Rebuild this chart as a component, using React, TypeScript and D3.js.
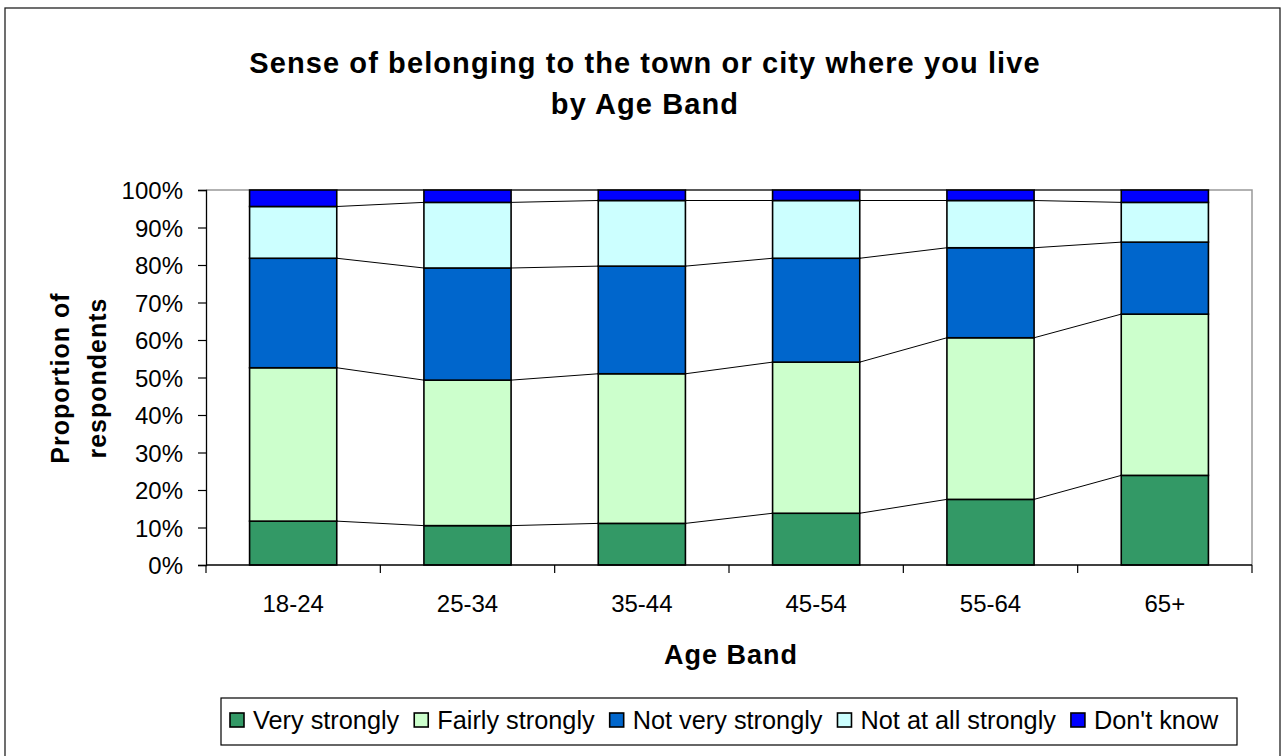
import React, { useRef, useEffect } from "react";
import * as d3 from "d3";

// Age bands and the share of respondents (%) in each answer
const ageBands = ["18-24", "25-34", "35-44", "45-54", "55-64", "65+"];
const seriesNames = ["Very strongly", "Fairly strongly", "Not very strongly", "Not at all strongly", "Don't know"];
const veryStrongly = [11.7, 10.5, 11.1, 13.8, 17.5, 23.9];
const fairlyStrongly = [40.9, 38.8, 39.9, 40.3, 43.1, 43.0];
const notVeryStrongly = [29.2, 29.9, 28.7, 27.7, 24.0, 19.2];
const notAtAllStrongly = [13.8, 17.5, 17.5, 15.4, 12.6, 10.6];
const dontKnow = [4.4, 3.3, 2.8, 2.8, 2.8, 3.3];
const seriesColors = ["#339966", "#CCFFCC", "#0066CC", "#CCFFFF", "#0000FF"];
const yTicks = [0, 10, 20, 30, 40, 50, 60, 70, 80, 90, 100];

const FONT = "'Liberation Sans', Arial, sans-serif";

const App = () => {
  const svgRef = useRef<SVGSVGElement>(null);

  useEffect(() => {
    const W = 1284;
    const H = 756;
    const plot = { left: 206, right: 1252, top: 190, bottom: 565 };

    const svg = d3.select(svgRef.current);
    svg.selectAll("*").remove();
    svg.attr("width", W).attr("height", H).attr("viewBox", `0 0 ${W} ${H}`);

    svg.append("rect").attr("width", W).attr("height", H).attr("fill", "#fff");

    // chart border
    svg.append("rect")
      .attr("x", 5).attr("y", 8)
      .attr("width", 1275).attr("height", 760)
      .attr("fill", "none").attr("stroke", "#222").attr("stroke-width", 1.3);

    // title
    const title = svg.append("text")
      .attr("text-anchor", "middle")
      .attr("font-family", FONT)
      .attr("font-weight", "bold")
      .attr("font-size", 29)
      .attr("letter-spacing", 1.1)
      .attr("fill", "#000");
    title.append("tspan").attr("x", 645).attr("y", 73).text("Sense of belonging to the town or city where you live");
    title.append("tspan").attr("x", 645).attr("y", 114).text("by Age Band");

    const stackData = ageBands.map((band, i) => ({
      band,
      s0: veryStrongly[i],
      s1: fairlyStrongly[i],
      s2: notVeryStrongly[i],
      s3: notAtAllStrongly[i],
      s4: dontKnow[i],
    }));
    const keys = ["s0", "s1", "s2", "s3", "s4"];
    const stacked = d3.stack<any>().keys(keys).offset(d3.stackOffsetExpand)(stackData);

    const x = d3.scaleBand().domain(ageBands).range([plot.left, plot.right]).paddingInner(0).paddingOuter(0);
    const y = d3.scaleLinear().domain([0, 1]).range([plot.bottom, plot.top]);
    const barW = x.bandwidth() / 2;
    const barX = (b: string) => (x(b) as number) + x.bandwidth() / 4;

    // plot area frame (top & right grey)
    svg.append("path")
      .attr("d", `M${plot.left},${plot.top}H${plot.right}V${plot.bottom}`)
      .attr("fill", "none").attr("stroke", "#999").attr("stroke-width", 1.5);

    // series lines
    stacked.forEach((layer) => {
      for (let i = 0; i < ageBands.length - 1; i++) {
        svg.append("line")
          .attr("x1", barX(ageBands[i]) + barW)
          .attr("y1", y(layer[i][1]))
          .attr("x2", barX(ageBands[i + 1]))
          .attr("y2", y(layer[i + 1][1]))
          .attr("stroke", "#000").attr("stroke-width", 1);
      }
    });

    // bars
    stacked.forEach((layer, si) => {
      svg.append("g")
        .selectAll("rect")
        .data(layer)
        .enter()
        .append("rect")
        .attr("x", (d: any) => barX(d.data.band))
        .attr("y", (d) => y(d[1]))
        .attr("width", barW)
        .attr("height", (d) => y(d[0]) - y(d[1]))
        .attr("fill", seriesColors[si])
        .attr("stroke", "#000")
        .attr("stroke-width", 1.6);
    });

    // y axis
    const yAxis = svg.append("g")
      .attr("transform", `translate(${plot.left},0)`)
      .call(d3.axisLeft(y).tickValues(yTicks.map((t) => t / 100)).tickFormat((d) => `${Math.round(+d * 100)}%`).tickSize(8).tickPadding(15));
    yAxis.select(".domain").attr("stroke", "#000").attr("stroke-width", 1.3);
    yAxis.selectAll(".tick line").attr("stroke", "#000").attr("stroke-width", 1.2);
    yAxis.selectAll(".tick text")
      .attr("font-family", FONT).attr("font-size", 24).attr("fill", "#000").attr("dy", "0.36em");

    // x axis: ticks between categories
    const xAxis = svg.append("g").attr("transform", `translate(0,${plot.bottom})`);
    xAxis.append("line")
      .attr("x1", plot.left).attr("x2", plot.right)
      .attr("stroke", "#000").attr("stroke-width", 1.3);
    const boundaries = ageBands.map((b) => x(b) as number).concat([plot.right]);
    xAxis.selectAll("line.tick")
      .data(boundaries)
      .enter()
      .append("line")
      .attr("class", "tick")
      .attr("x1", (d) => d).attr("x2", (d) => d)
      .attr("y1", 0).attr("y2", 8)
      .attr("stroke", "#000").attr("stroke-width", 1.2);
    xAxis.selectAll("text")
      .data(ageBands)
      .enter()
      .append("text")
      .attr("x", (d) => (x(d) as number) + x.bandwidth() / 2)
      .attr("y", 47)
      .attr("text-anchor", "middle")
      .attr("font-family", FONT).attr("font-size", 24).attr("fill", "#000")
      .text((d) => d);

    // axis titles
    svg.append("text")
      .attr("x", 731).attr("y", 664)
      .attr("text-anchor", "middle")
      .attr("font-family", FONT).attr("font-weight", "bold").attr("font-size", 27).attr("letter-spacing", 1)
      .text("Age Band");

    const yTitle = svg.append("text")
      .attr("transform", "translate(0,378) rotate(-90)")
      .attr("text-anchor", "middle")
      .attr("font-family", FONT).attr("font-weight", "bold").attr("font-size", 25).attr("letter-spacing", 1);
    yTitle.append("tspan").attr("x", 0).attr("y", 69).text("Proportion of");
    yTitle.append("tspan").attr("x", 0).attr("y", 106).text("respondents");

    // legend
    const legend = svg.append("g");
    legend.append("rect")
      .attr("x", 221).attr("y", 698).attr("width", 1016).attr("height", 47)
      .attr("fill", "#fff").attr("stroke", "#000").attr("stroke-width", 1.2);
    let lx = 230;
    seriesNames.forEach((name, i) => {
      legend.append("rect")
        .attr("x", lx).attr("y", 713).attr("width", 14).attr("height", 14)
        .attr("fill", seriesColors[i]).attr("stroke", "#000").attr("stroke-width", 1.6);
      const t = legend.append("text")
        .attr("x", lx + 23).attr("y", 729)
        .attr("font-family", FONT).attr("font-size", 25.3).attr("fill", "#000")
        .text(name);
      const w = (t.node() as SVGTextElement).getComputedTextLength();
      lx = lx + 23 + w + 15;
    });
  }, []);

  return (
    <svg
      ref={svgRef}
      style={{ position: "absolute", left: 0, top: 0, display: "block" }}
    ></svg>
  );
};

export default App;
